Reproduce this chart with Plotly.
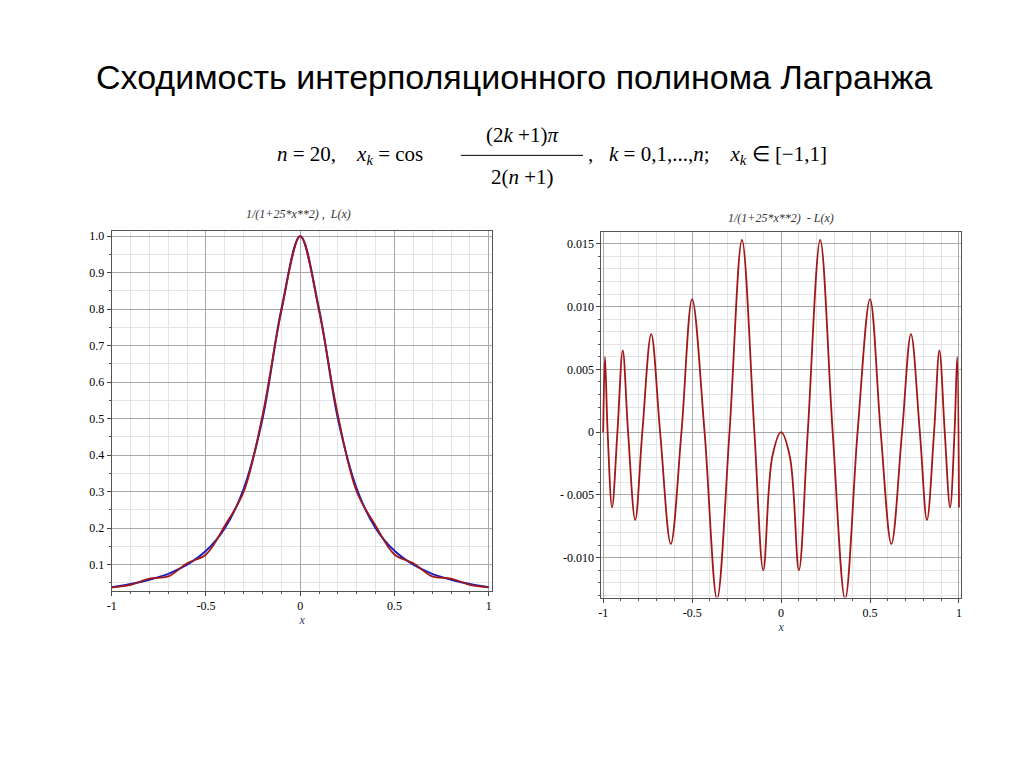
import plotly.graph_objects as go

# left plot: Runge function and its interpolant
x_left = [-1, -0.9, -0.8, -0.7, -0.6, -0.5, -0.4, -0.3, -0.2, -0.1, 0,
          0.1, 0.2, 0.3, 0.4, 0.5, 0.6, 0.7, 0.8, 0.9, 1]
runge = [0.038, 0.047, 0.059, 0.075, 0.1, 0.138, 0.2, 0.308, 0.5, 0.8, 1.0,
         0.8, 0.5, 0.308, 0.2, 0.138, 0.1, 0.075, 0.059, 0.047, 0.038]
lagrange = [0.038, 0.045, 0.062, 0.068, 0.104, 0.128, 0.207, 0.3, 0.509, 0.795, 1.0,
            0.795, 0.509, 0.3, 0.207, 0.128, 0.104, 0.068, 0.062, 0.045, 0.038]

# right plot: error curve, extrema and zero crossings
x_err = [-1, -0.99, -0.975, -0.95, -0.92, -0.89, -0.86, -0.82, -0.78, -0.73,
         -0.68, -0.62, -0.56, -0.5, -0.43, -0.36, -0.29, -0.22, -0.15, -0.1,
         -0.05, 0, 0.05, 0.1, 0.15, 0.22, 0.29, 0.36, 0.43, 0.5, 0.56, 0.62,
         0.68, 0.73, 0.78, 0.82, 0.86, 0.89, 0.92, 0.95, 0.975, 0.99, 1]
err = [0.0, 0.006, 0.0, -0.006, 0.0, 0.0065, 0.0, -0.007, 0.0, 0.0078,
       0.0, -0.0089, 0.0, 0.0106, 0.0, -0.0133, 0.0, 0.0153, 0.0, -0.011,
       -0.002, 0.0, -0.002, -0.011, 0.0, 0.0153, 0.0, -0.0133, 0.0, 0.0106, 0.0, -0.0089,
       0.0, 0.0078, 0.0, -0.007, 0.0, 0.0065, 0.0, -0.006, 0.0, 0.006, -0.006]

x_ticks = [-1, -0.5, 0, 0.5, 1]
x_labels = ["-1", "-0.5", "0", "0.5", "1"]
left_ticks = [0.1, 0.2, 0.3, 0.4, 0.5, 0.6, 0.7, 0.8, 0.9, 1.0]
left_labels = ["0.1", "0.2", "0.3", "0.4", "0.5", "0.6", "0.7", "0.8", "0.9", "1.0"]
right_ticks = [-0.010, -0.005, 0, 0.005, 0.010, 0.015]
right_labels = ["-0.010", "- 0.005", "0", "0.005", "0.010", "0.015"]

RED = "#a01818"
tick_font = dict(family="Liberation Serif", size=12, color="black")

fig = go.Figure()
fig.add_trace(go.Scatter(x=x_left, y=runge, mode="lines", line=dict(color="#2020c0", width=2, shape="spline", smoothing=1.0),
                         xaxis="x", yaxis="y"))
fig.add_trace(go.Scatter(x=x_left, y=lagrange, mode="lines", line=dict(color=RED, width=1.8, shape="spline", smoothing=1.0),
                         xaxis="x", yaxis="y"))
fig.add_trace(go.Scatter(x=x_err, y=err, mode="lines", line=dict(color=RED, width=1.8, shape="spline", smoothing=1.0),
                         xaxis="x2", yaxis="y2"))

axis_common = dict(showline=True, linecolor="#555", mirror=True, ticks="outside", ticklen=4,
                   showgrid=True, gridcolor="#a8a8a8", gridwidth=1, zeroline=False,
                   tickfont=tick_font,
                   minor=dict(showgrid=True, gridcolor="#e4e4e4", ticks="outside", ticklen=2, tickcolor="#555"))

fig.update_layout(
    width=1024, height=767, margin=dict(l=0, r=0, t=0, b=0),
    paper_bgcolor="white", plot_bgcolor="white", showlegend=False,
    xaxis=dict(axis_common, domain=[0.097, 0.471], range=[-1.0, 1.02], tickvals=x_ticks, ticktext=x_labels,
               anchor="y", minor=dict(axis_common["minor"], dtick=0.1),
               title=dict(text="<i>x</i>", font=dict(family="Liberation Serif", size=12), standoff=2)),
    yaxis=dict(axis_common, domain=[0.241, 0.711], range=[0.029, 1.014], tickvals=left_ticks, ticktext=left_labels,
               anchor="x", minor=dict(axis_common["minor"], dtick=0.05)),
    xaxis2=dict(axis_common, domain=[0.578, 0.931], range=[-1.01, 1.01], tickvals=x_ticks, ticktext=x_labels,
                anchor="y2", minor=dict(axis_common["minor"], dtick=0.1),
                title=dict(text="<i>x</i>", font=dict(family="Liberation Serif", size=12), standoff=2)),
    yaxis2=dict(axis_common, domain=[0.232, 0.710], range=[-0.01317, 0.01595], tickvals=right_ticks, ticktext=right_labels,
                anchor="x2", minor=dict(axis_common["minor"], dtick=0.001)),
)

def note(x, y, text, font, xanchor="center"):
    fig.add_annotation(x=x, y=y, xref="paper", yref="paper", showarrow=False,
                       xanchor=xanchor, yanchor="middle", text=text, font=font)

# titles and formula
note(0.492, 0.912, "Сходимость интерполяционного полинома Лагранжа",
     dict(family="Liberation Sans", size=34, color="black"))
note(0.28, 0.733, "<i>1/(1+25*x**2) ,  L(x)</i>", dict(family="Liberation Serif", size=12, color="#333"))
note(0.754, 0.728, "<i>1/(1+25*x**2)  - L(x)</i>", dict(family="Liberation Serif", size=12, color="#333"))

ff = dict(family="Liberation Serif", size=21, color="black")
note(0.257, 0.81, "<i>n</i> = 20,    <i>x<sub>k</sub></i> = cos", ff, xanchor="left")
note(0.5, 0.837, "(2<i>k</i> +1)<i>π</i>", ff)
note(0.5, 0.782, "2(<i>n</i> +1)", ff)
fig.add_shape(type="line", xref="paper", yref="paper", x0=0.44, x1=0.56, y0=0.81, y1=0.81,
              line=dict(color="black", width=1))
note(0.563, 0.81, ",   <i>k</i> = 0,1,...,<i>n</i>;    <i>x<sub>k</sub></i> ∈ [−1,1]", ff, xanchor="left")

fig.write_html("out.html")
